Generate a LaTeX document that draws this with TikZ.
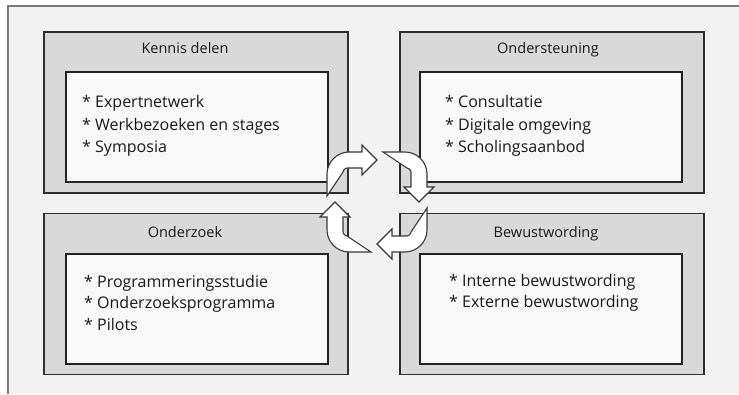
\documentclass[tikz,border=0pt]{standalone}
\usepackage{fontspec}
\setmainfont{Open Sans}
\definecolor{bgc}{HTML}{F2F2F2}
\definecolor{framec}{HTML}{7A7A7A}
\definecolor{outerfill}{HTML}{D9D9D9}
\definecolor{outerdraw}{HTML}{2E2E2E}
\definecolor{innerfill}{HTML}{F8F8F8}
\definecolor{innerdraw}{HTML}{222222}
\definecolor{arrowdraw}{HTML}{3A3A3A}
\tikzset{
  outerbox/.style={draw=outerdraw, fill=outerfill, line width=1.5pt, minimum width=304pt, minimum height=161pt, inner sep=0pt},
  innerbox/.style={draw=innerdraw, fill=innerfill, line width=2pt, minimum width=262pt, minimum height=110pt, inner sep=0pt},
  titletext/.style={anchor=base, inner sep=0pt, font=\fontsize{14.5}{18}\selectfont, text=black!90},
  itemtext/.style={anchor=base west, inner sep=0pt, font=\fontsize{16}{18}\selectfont, text=black!90},
  cyclearrow/.style={draw=arrowdraw, fill=white, line width=1.1pt, line join=miter},
  cyc/.pic={
    \path[cyclearrow] (-50,-6) -- (-50,-28) .. controls (-50,-40) and (-40,-50) .. (-28,-50)
      -- (-15,-50) -- (-15,-57) -- (0,-42) -- (-15,-27) -- (-15,-34) -- (-30,-34)
      .. controls (-32,-34) and (-34,-32) .. (-34,-30) -- cycle;
  }
}
\begin{document}
\begin{tikzpicture}[x=1pt,y=-1pt]
\useasboundingbox (0,0) rectangle (739,394);
\fill[white] (0,0) rectangle (739,394);
\fill[bgc] (7.5,5.5) rectangle (739,394);
\draw[framec, line width=2pt] (7.5,394) -- (7.5,5.5) -- (739,5.5);

% outer boxes
\node[outerbox] (kd) at (196,112.5) {};
\node[outerbox] (os) at (552,112.5) {};
\node[outerbox] (oz) at (196,294) {};
\node[outerbox] (bw) at (552,294) {};
% inner boxes
\node[innerbox] (kdi) at (197,127) {};
\node[innerbox] (osi) at (550.5,127) {};
\node[innerbox] (ozi) at (197,308.5) {};
\node[innerbox] (bwi) at (550.5,308.5) {};

% titles
\node[titletext] (kdt) at (185,53.5) {Kennis delen};
\node[titletext] (ost) at (548,53.5) {Ondersteuning};
\node[titletext] (ozt) at (185,237) {Onderzoek};
\node[titletext] (bwt) at (546,237) {Bewustwording};

% items
\node[itemtext] (kd1) at (82,107) {* Expertnetwerk};
\node[itemtext] (kd2) at (82,130) {* Werkbezoeken en stages};
\node[itemtext] (kd3) at (82,152) {* Symposia};
\node[itemtext] (os1) at (445,107) {* Consultatie};
\node[itemtext] (os2) at (445,130) {* Digitale omgeving};
\node[itemtext] (os3) at (445,152) {* Scholingsaanbod};
\node[itemtext] (oz1) at (84,287) {* Programmeringsstudie};
\node[itemtext] (oz2) at (84,308.5) {* Onderzoeksprogramma};
\node[itemtext] (oz3) at (84,330) {* Pilots};
\node[itemtext] (bw1) at (449,286) {* Interne bewustwording};
\node[itemtext] (bw2) at (449,307.5) {* Externe bewustwording};

% cycle arrows
\coordinate (cc) at (377,202);
\pic at (cc) {cyc};
\pic[rotate=-90] at (cc) {cyc};
\pic[rotate=-180] at (cc) {cyc};
\pic[rotate=-270] at (cc) {cyc};
\end{tikzpicture}
\end{document}
